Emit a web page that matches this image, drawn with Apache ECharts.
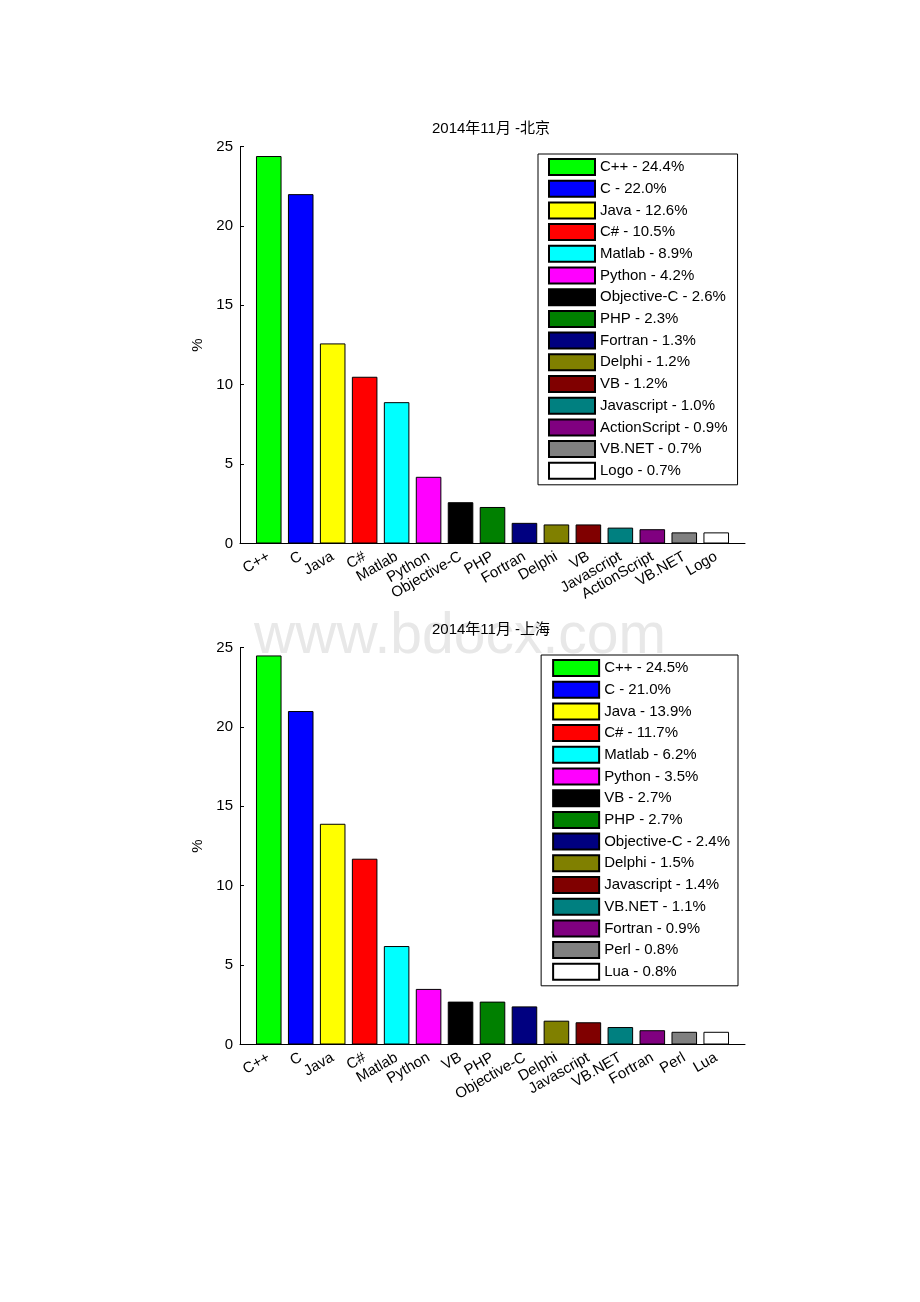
<!DOCTYPE html>
<html><head><meta charset="utf-8">
<script src="https://cdn.jsdelivr.net/npm/echarts@6/dist/echarts.min.js"></script>
<style>html,body{margin:0;padding:0;background:#fff}#c{width:920px;height:1302px}</style>
</head><body><div id="c"></div>
<script>
const barColors = ['#00ff00','#0000ff','#ffff00','#ff0000','#00ffff','#ff00ff','#000000','#008000','#000080','#808000','#800000','#008080','#800080','#808080','#ffffff'];
const bjTitle = '2014年11月 -北京';
const bjCategories = ['C++','C','Java','C#','Matlab','Python','Objective-C','PHP','Fortran','Delphi','VB','Javascript','ActionScript','VB.NET','Logo'];
const bjValues = [24.4,22.0,12.6,10.5,8.9,4.2,2.6,2.3,1.3,1.2,1.2,1.0,0.9,0.7,0.7];
const shTitle = '2014年11月 -上海';
const shCategories = ['C++','C','Java','C#','Matlab','Python','VB','PHP','Objective-C','Delphi','Javascript','VB.NET','Fortran','Perl','Lua'];
const shValues = [24.5,21.0,13.9,11.7,6.2,3.5,2.7,2.7,2.4,1.5,1.4,1.1,0.9,0.8,0.8];
const yAxisName = '%';
const watermark = 'www.bdocx.com';

const FONT = '"Liberation Sans", Arial, "Noto Sans CJK SC", sans-serif';
const charts = [
  {title: bjTitle, cats: bjCategories, vals: bjValues, top: 146.5, height: 397,
   legendPos: {left: 538, top: 154}, legendPad: [4, 10, 5, 10]},
  {title: shTitle, cats: shCategories, vals: shValues, top: 647.5, height: 397,
   legendPos: {right: 182, top: 655}, legendPad: [4, 8, 5, 11]}
];

const grid = [], xAxis = [], yAxis = [], series = [], legend = [], title = [];
charts.forEach((c, k) => {
  grid.push({left: 240, width: 505, top: c.top, height: c.height, containLabel: false});
  title.push({text: c.title, left: 491, top: c.top - 25, textAlign: 'center', padding: 0,
    textStyle: {fontSize: 15, fontWeight: 'normal', color: '#000', fontFamily: FONT}});
  xAxis.push({type: 'value', gridIndex: k, min: 0.1, max: 15.9,
    splitLine: {show: false}, axisTick: {show: false},
    axisLine: {show: true, onZero: false, lineStyle: {color: '#000', width: 1}},
    axisLabel: {customValues: c.cats.map((_, i) => i + 1),
      formatter: v => c.cats[Math.round(v) - 1] || '',
      rotate: 30, fontSize: 15, color: '#000', margin: 12, fontFamily: FONT, hideOverlap: false}});
  yAxis.push({type: 'value', gridIndex: k, min: 0, max: 25, interval: 5,
    splitLine: {show: false},
    axisLine: {show: true, lineStyle: {color: '#000', width: 1}},
    axisTick: {show: true, inside: true, length: 4, lineStyle: {color: '#000'}},
    axisLabel: {fontSize: 15, color: '#000', margin: 7, fontFamily: FONT},
    name: yAxisName, nameLocation: 'middle', nameGap: 30,
    nameTextStyle: {fontSize: 15, color: '#000', fontFamily: FONT}});
  const names = [];
  c.cats.forEach((cat, i) => {
    const name = cat + ' - ' + c.vals[i].toFixed(1) + '%';
    names.push(name);
    series.push({type: 'bar', name, xAxisIndex: k, yAxisIndex: k,
      data: [[i + 1, c.vals[i]]], barWidth: '80%', barGap: '-100%',
      itemStyle: {color: barColors[i], borderColor: '#000', borderWidth: 1},
      emphasis: {disabled: true}, animation: false});
  });
  legend.push(Object.assign({data: names, orient: 'vertical',
    itemWidth: 46, itemHeight: 16, itemGap: 3.7, padding: c.legendPad,
    borderColor: '#000', borderWidth: 1, backgroundColor: '#fff',
    selectedMode: false, icon: 'rect',
    textStyle: {fontSize: 15, color: '#000', fontFamily: FONT}}, c.legendPos));
});

const chart = echarts.init(document.getElementById('c'), null, {renderer: 'canvas'});
chart.setOption({
  animation: false,
  backgroundColor: '#fff',
  title, grid, xAxis, yAxis, series, legend,
  graphic: [{type: 'text', left: 'center', top: 609, z: -10, silent: true,
    style: {text: watermark, fontSize: 57, fill: '#e8e8e8', fontFamily: FONT}}]
});
</script></body></html>
